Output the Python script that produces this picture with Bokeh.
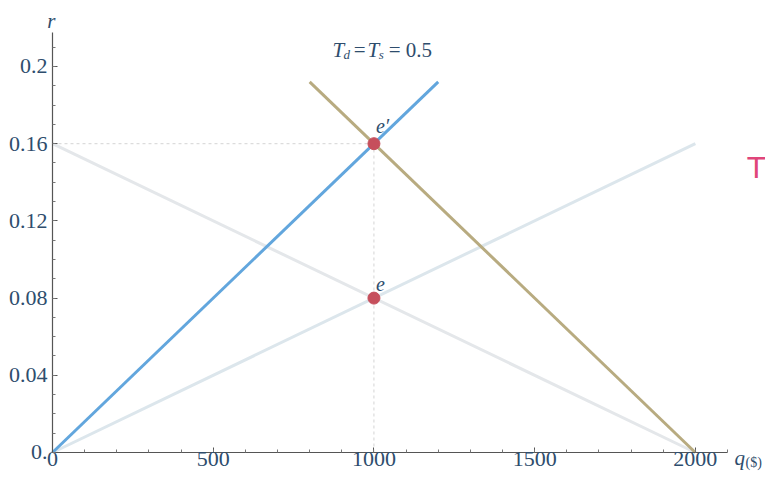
from bokeh.plotting import figure
from bokeh.models import Range1d, FixedTicker, Label, ColumnDataSource
from bokeh.embed import file_html
from bokeh.resources import INLINE

# --- data ---
supply_q = [0, 2000]
supply_r = [0.0, 0.16]
demand_q = [0, 2000]
demand_r = [0.16, 0.0]
supply_tax_q = [0, 1200]
supply_tax_r = [0.0, 0.192]
demand_tax_q = [800, 2000]
demand_tax_r = [0.192, 0.0]
eq_q = [1000, 1000]
eq_r = [0.16, 0.08]
eq_names = ["e\u2032", "e"]
x_ticks = [0, 500, 1000, 1500, 2000]
y_ticks = [0.0, 0.04, 0.08, 0.12, 0.16, 0.2]
y_tick_labels = ["0.", "0.04", "0.08", "0.12", "0.16", "0.2"]

FONT = "Liberation Serif"
TICK_COLOR = "#2e4d6d"
XMAX = 2100
YMAX = 0.2176

# frame covers the whole canvas; axes are placed at the origin
p = figure(width=765, height=484, output_backend="svg", toolbar_location=None,
           x_range=Range1d(-161.8, 2218.2), y_range=Range1d(-0.01658, 0.23419),
           min_border_left=0, min_border_right=0, min_border_top=0, min_border_bottom=0)
p.outline_line_color = None
p.grid.visible = False
p.background_fill_color = "white"

for ax in (p.xaxis[0], p.yaxis[0]):
    ax.fixed_location = 0
    ax.axis_line_color = "#555555"
    ax.axis_line_width = 1.2
    ax.major_tick_in = 5
    ax.major_tick_out = 0
    ax.minor_tick_in = 3
    ax.minor_tick_out = 0
    ax.major_tick_line_color = "#555555"
    ax.minor_tick_line_color = "#777777"
    ax.major_label_text_font = FONT
    ax.major_label_text_font_size = "22px"
    ax.major_label_text_color = TICK_COLOR

p.xaxis[0].bounds = (0, XMAX)
p.yaxis[0].bounds = (0, YMAX)
p.xaxis[0].ticker = FixedTicker(ticks=x_ticks, minor_ticks=list(range(0, 2200, 100)))
p.yaxis[0].ticker = FixedTicker(ticks=y_ticks, minor_ticks=[i * 0.01 for i in range(22)])
p.yaxis[0].major_label_overrides = {t: s for t, s in zip(y_ticks, y_tick_labels)}
p.xaxis[0].major_label_standoff = 0
p.yaxis[0].major_label_standoff = 5

# reference dotted lines
p.line([eq_q[0], eq_q[0]], [0, eq_r[0]], line_color="#d4d4d4", line_dash="3 3", line_width=1)
p.line([0, eq_q[0]], [eq_r[0], eq_r[0]], line_color="#d4d4d4", line_dash="3 3", line_width=1)

# original curves
p.line(supply_q, supply_r, line_color="#dce6ec", line_width=3)
p.line(demand_q, demand_r, line_color="#e4e7ea", line_width=3)

# taxed curves
p.line(demand_tax_q, demand_tax_r, line_color="#b8ab80", line_width=3)
p.line(supply_tax_q, supply_tax_r, line_color="#62a6dd", line_width=3)

src = ColumnDataSource(dict(q=eq_q, r=eq_r, name=eq_names))
p.scatter("q", "r", source=src, size=12, fill_color="#c64f5c", line_color="#c64f5c")
p.text("q", "r", text="name", source=src, x_offset=2, y_offset=-7,
       text_font={"value": FONT}, text_font_style="italic", text_font_size="20px",
       text_color=TICK_COLOR, text_baseline="bottom")

# title T_d = T_s = 0.5
ty = 0.2083
def lab(x, text, size="21px", italic=False, yoff=0):
    p.add_layout(Label(x=x, y=ty, y_offset=yoff, text=text, text_font=FONT,
                       text_font_style="italic" if italic else "normal",
                       text_font_size=size, text_color=TICK_COLOR,
                       text_baseline="alphabetic"))
lab(871, "T", italic=True)
lab(905, "d", size="13px", italic=True, yoff=-4)
lab(937, "=")
lab(980, "T", italic=True)
lab(1015, "s", size="13px", italic=True, yoff=-4)
lab(1046, "= 0.5")

# axis labels
p.add_layout(Label(x=-4, y=0.2238, text="r", text_font=FONT, text_align="center",
                   text_baseline="alphabetic",
                   text_font_style="italic", text_font_size="21px", text_color=TICK_COLOR))
p.add_layout(Label(x=XMAX, y=0, x_offset=7, y_offset=-6, text="q", text_font=FONT,
                   text_baseline="alphabetic",
                   text_font_style="italic", text_font_size="21px", text_color=TICK_COLOR))
p.add_layout(Label(x=XMAX, y=0, x_offset=18, y_offset=-10, text="($)", text_font=FONT,
                   text_baseline="alphabetic",
                   text_font_size="14px", text_color=TICK_COLOR))

# handwritten annotation
p.add_layout(Label(x=XMAX, y=0.156, x_offset=20, text="T", text_font="DejaVu Sans",
                   text_baseline="top",
                   text_font_size="29px", text_color="#e0457a"))

open("out.html", "w").write(file_html(p, INLINE))
